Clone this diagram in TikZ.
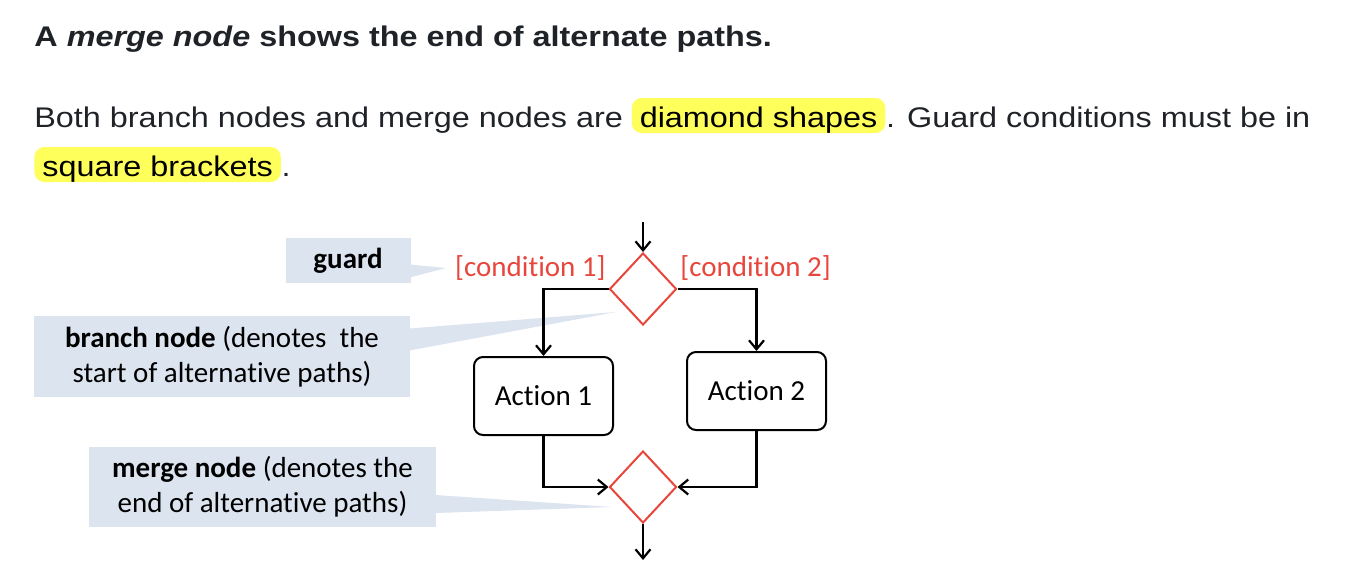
\documentclass[tikz,border=0pt]{standalone}
\usepackage{fontspec}
\usepackage{tikz}
\usetikzlibrary{shapes.geometric,arrows.meta,calc}
\setmainfont[FakeStretch=1.14]{Liberation Sans}
\newfontfamily\calibri[Ligatures=NoCommon]{Carlito}
\definecolor{textdark}{HTML}{1F2328}
\definecolor{markyellow}{HTML}{FFFF5C}
\definecolor{calloutblue}{HTML}{DCE4F0}
\definecolor{umlred}{HTML}{E8463C}

\begin{document}
\begin{tikzpicture}[x=0.5pt,y=-0.5pt,
  bodytext/.style={inner sep=0,text=textdark,font=\fontsize{14.2}{17}\selectfont},
  marked/.style={fill=markyellow,rounded corners=5pt,inner xsep=4pt,inner ysep=0,text height=14.5pt,text depth=3pt,font=\fontsize{14.2}{17}\selectfont},
  callout/.style={fill=calloutblue,align=center,inner sep=0,font=\calibri\fontsize{14.5}{17.5}\selectfont},
  decision/.style={diamond,draw=umlred,fill=white,line width=1pt,minimum width=33.5pt,minimum height=36pt,inner sep=0},
  action/.style={draw,rounded corners=4.5pt,line width=1pt,minimum width=69.5pt,minimum height=39pt,font=\calibri\fontsize{14.5}{17.5}\selectfont},
  guardlabel/.style={inner sep=0,text=umlred,font=\calibri\fontsize{14.5}{17.5}\selectfont},
  flow/.style={line width=1.1pt,-{Straight Barb[length=4.5pt,width=7.5pt]}}]
\useasboundingbox (0,0) rectangle (1368,574);
% heading and text lines
\node[bodytext,anchor=base west,font=\bfseries\fontsize{14.2}{17}\selectfont] (title) at (34,46) {A \textit{merge node} shows the end of alternate paths.};
\node[bodytext,anchor=base west] (both) at (34,127) {Both branch nodes and merge nodes are};
\node[marked,anchor=base west] (diam) at ($(both.base east)+(8,0)$) {diamond shapes};
\node[bodytext,anchor=base west] (guardrule) at (diam.base east) {. Guard conditions must be in};
\node[marked,anchor=base west] (square) at (34,176) {square brackets};
\node[bodytext,anchor=base west] (stop) at (square.base east) {.};
% callouts
\node[callout,minimum width=62.5pt,minimum height=22.5pt] (guard) at (348,260.5) {\bfseries guard};
\node[callout,minimum width=188pt,minimum height=40.5pt] (branchnote) at (222,356.5) {\textbf{branch node} (denotes\ \ the\\start of alternative paths)};
\node[callout,minimum width=173.5pt,minimum height=40pt] (mergenote) at (262.5,487) {\textbf{merge node} (denotes the\\end of alternative paths)};
\coordinate (guardtip) at (446,268);
\coordinate (branchtip) at (616,312);
\coordinate (mergetip) at (612,507);
\fill[calloutblue] ($(guard.east)+(-1,4)$) -- (guardtip) -- ($(guard.east)+(-1,17)$) -- cycle;
\fill[calloutblue] ($(branchnote.east)+(-1,-28)$) -- (branchtip) -- ($(branchnote.east)+(-1,-6)$) -- cycle;
\fill[calloutblue] ($(mergenote.east)+(-1,8)$) -- (mergetip) -- ($(mergenote.east)+(-1,26)$) -- cycle;
% activity diagram
\coordinate (start) at (643,222);
\coordinate (finish) at (643,560);
\node[decision] (branch) at (643,289) {};
\node[decision] (merge) at (643,487) {};
\node[action] (act1) at (543.5,396) {Action 1};
\node[action] (act2) at (756.5,391) {Action 2};
\node[guardlabel,anchor=base east] (cond1) at (606,276) {[condition 1]};
\node[guardlabel,anchor=base west] (cond2) at (680,276) {[condition 2]};
\draw[flow] (start) -- (branch.north);
\draw[flow] (branch.west) -| (act1.north);
\draw[flow] (branch.east) -| (act2.north);
\draw[flow] (act1.south) |- (merge.west);
\draw[flow] (act2.south) |- (merge.east);
\draw[flow] (merge.south) -- (finish);
\end{tikzpicture}
\end{document}
